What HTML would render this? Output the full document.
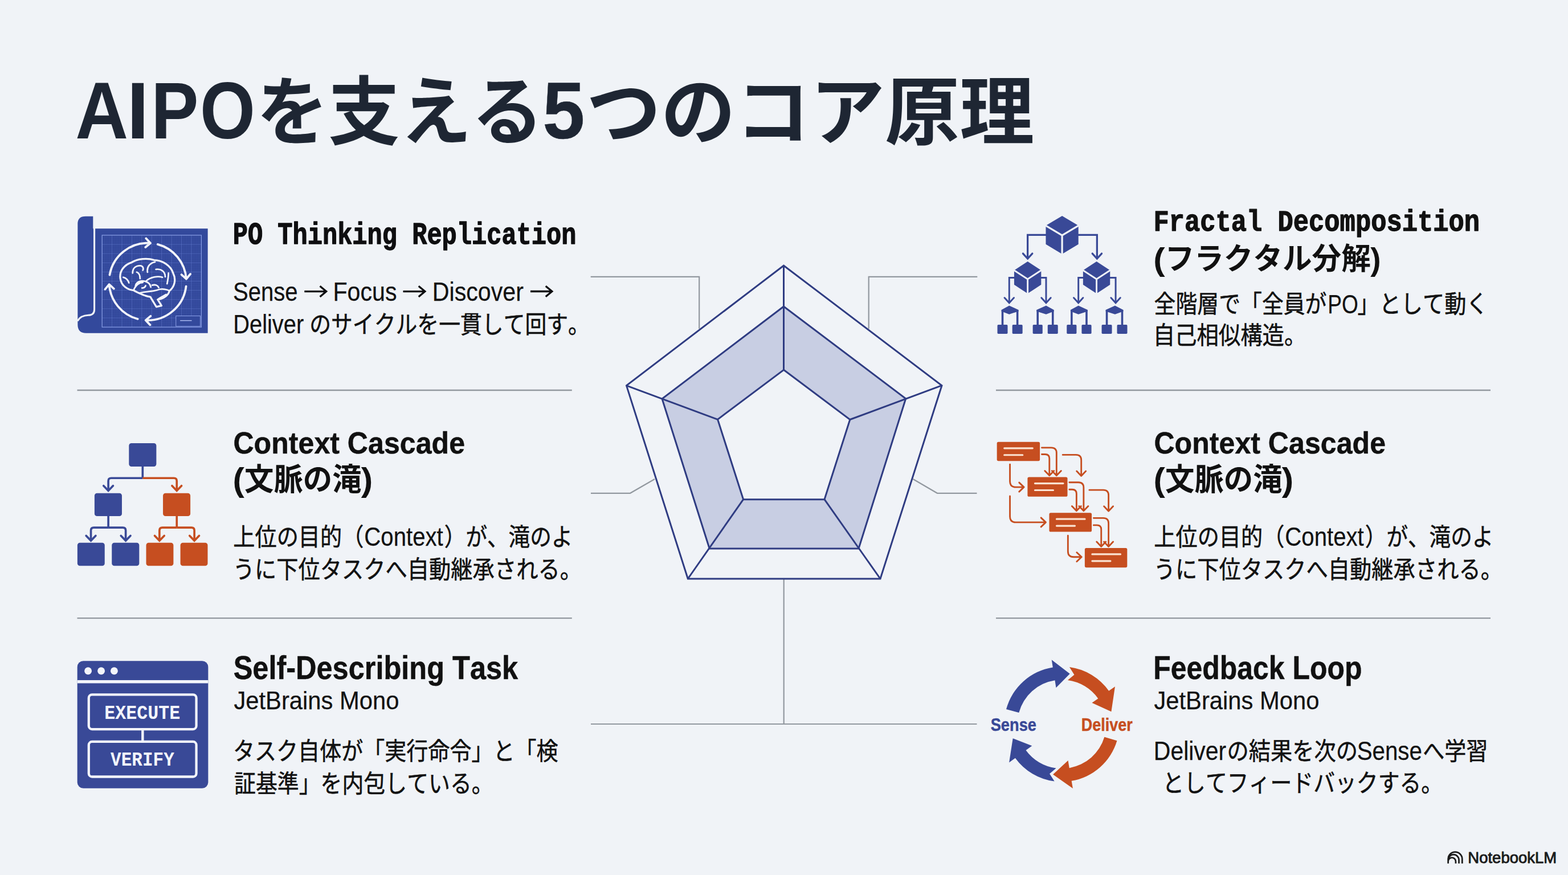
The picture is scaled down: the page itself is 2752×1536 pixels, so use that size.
<!DOCTYPE html>
<html lang="ja"><head><meta charset="utf-8"><title>AIPO core principles</title>
<style>
html,body{margin:0;padding:0;background:#f0f3f7;}
body{width:2752px;height:1536px;overflow:hidden;font-family:"Liberation Sans",sans-serif;}
svg{display:block;}
text{font-kerning:none;white-space:pre;}
</style></head><body>
<svg width="2752" height="1536" viewBox="0 0 2752 1536">
<line x1="135.5" y1="685" x2="1003.8" y2="685" stroke="#92989f" stroke-width="2.3"/>
<line x1="1748" y1="685" x2="2616" y2="685" stroke="#92989f" stroke-width="2.3"/>
<line x1="135.5" y1="1085.2" x2="1003.8" y2="1085.2" stroke="#92989f" stroke-width="2.3"/>
<line x1="1748" y1="1085.2" x2="2616" y2="1085.2" stroke="#92989f" stroke-width="2.3"/>
<path d="M1036.7 485.8 H1227.2 V577" fill="none" stroke="#92989f" stroke-width="2.2"/>
<path d="M1715.3 485.8 H1524.7 V577" fill="none" stroke="#92989f" stroke-width="2.2"/>
<path d="M1037 865.8 H1106 L1149 841" fill="none" stroke="#92989f" stroke-width="2.2"/>
<path d="M1714.5 865.8 H1645 L1602.5 841" fill="none" stroke="#92989f" stroke-width="2.2"/>
<path d="M1037 1271 H1714.5 M1375.7 1017 V1271" fill="none" stroke="#92989f" stroke-width="2.2"/>
<path d="M1375.5 538 L1589.7 699.8 L1507 963 L1245.2 963 L1162 700Z M1375.5 649.3 L1491.8 736.5 L1447 876.7 L1304.6 876.7 L1259.6 736.3Z" fill="#c8cee3" stroke="none" stroke-width="0" fill-rule="evenodd"/>
<path d="M1375.5 466.2 L1653 676.7 L1545 1016 L1207.3 1016 L1099.5 676.9Z" fill="none" stroke="#2f3c82" stroke-width="3" stroke-linejoin="miter"/>
<path d="M1375.5 538 L1589.7 699.8 L1507 963 L1245.2 963 L1162 700Z" fill="none" stroke="#2f3c82" stroke-width="3" stroke-linejoin="miter"/>
<path d="M1375.5 649.3 L1491.8 736.5 L1447 876.7 L1304.6 876.7 L1259.6 736.3Z" fill="none" stroke="#2f3c82" stroke-width="3" stroke-linejoin="miter"/>
<line x1="1375.5" y1="466.2" x2="1375.5" y2="649.3" stroke="#2f3c82" stroke-width="3"/>
<line x1="1653" y1="676.7" x2="1491.8" y2="736.5" stroke="#2f3c82" stroke-width="3"/>
<line x1="1545" y1="1016" x2="1447" y2="876.7" stroke="#2f3c82" stroke-width="3"/>
<line x1="1207.3" y1="1016" x2="1304.6" y2="876.7" stroke="#2f3c82" stroke-width="3"/>
<line x1="1099.5" y1="676.9" x2="1259.6" y2="736.3" stroke="#2f3c82" stroke-width="3"/>
<g transform="translate(120 365) scale(0.16343)"><path d="M185 90 H265 V222 H1497 V1345 H190 Q100 1345 100 1255 V180 Q95 90 185 90Z" fill="#33499c"/><path d="M279 80 V1090 Q279 1150 215 1152 Q130 1155 98 1215" fill="none" stroke="#f0f3f7" stroke-width="19"/><path d="M468.6 293 V1280 M575.2 293 V1280 M681.8 293 V1280 M788.4 293 V1280 M895.0 293 V1280 M1001.6 293 V1280 M1108.2 293 V1280 M1214.8 293 V1280 M1321.4 293 V1280 M362 391.7 H1428 M362 490.4 H1428 M362 589.1 H1428 M362 687.8 H1428 M362 786.5 H1428 M362 885.2 H1428 M362 983.9 H1428 M362 1082.6 H1428 M362 1181.3 H1428" stroke="#7f96e6" stroke-width="4" opacity="0.45" fill="none"/><path d="M362.0 293 V1280 M388.6 293 V1280 M415.3 293 V1280 M441.9 293 V1280 M468.6 293 V1280 M495.2 293 V1280 M521.9 293 V1280 M548.5 293 V1280 M575.2 293 V1280 M601.9 293 V1280 M628.5 293 V1280 M655.1 293 V1280 M681.8 293 V1280 M708.5 293 V1280 M735.1 293 V1280 M761.8 293 V1280 M788.4 293 V1280 M815.0 293 V1280 M841.7 293 V1280 M868.3 293 V1280 M895.0 293 V1280 M921.6 293 V1280 M948.3 293 V1280 M974.9 293 V1280 M1001.6 293 V1280 M1028.2 293 V1280 M1054.9 293 V1280 M1081.5 293 V1280 M1108.2 293 V1280 M1134.8 293 V1280 M1161.5 293 V1280 M1188.2 293 V1280 M1214.8 293 V1280 M1241.4 293 V1280 M1268.1 293 V1280 M1294.8 293 V1280 M1321.4 293 V1280 M1348.0 293 V1280 M1374.7 293 V1280 M1401.3 293 V1280 M362 293.0 H1428 M362 317.7 H1428 M362 342.4 H1428 M362 367.0 H1428 M362 391.7 H1428 M362 416.4 H1428 M362 441.1 H1428 M362 465.7 H1428 M362 490.4 H1428 M362 515.1 H1428 M362 539.8 H1428 M362 564.4 H1428 M362 589.1 H1428 M362 613.8 H1428 M362 638.5 H1428 M362 663.1 H1428 M362 687.8 H1428 M362 712.5 H1428 M362 737.2 H1428 M362 761.8 H1428 M362 786.5 H1428 M362 811.2 H1428 M362 835.9 H1428 M362 860.5 H1428 M362 885.2 H1428 M362 909.9 H1428 M362 934.6 H1428 M362 959.2 H1428 M362 983.9 H1428 M362 1008.6 H1428 M362 1033.2 H1428 M362 1057.9 H1428 M362 1082.6 H1428 M362 1107.3 H1428 M362 1132.0 H1428 M362 1156.6 H1428 M362 1181.3 H1428 M362 1206.0 H1428 M362 1230.7 H1428 M362 1255.3 H1428" stroke="#7f96e6" stroke-width="2" opacity="0.18" fill="none"/><rect x="362" y="293" width="1066" height="987" fill="none" stroke="#8ea3ea" stroke-width="7"/><rect x="1155" y="1160" width="262" height="112" fill="#33499c" stroke="#8ea3ea" stroke-width="6"/><path d="M1200 1210 H1325" stroke="#a9b8ee" stroke-width="9"/><path d="M443.3 719.9 A415 415 0 0 1 880.9 378.0 M834.4 327.1 L880.9 378.0 L827.8 421.9 M959.4 391.1 A415 415 0 0 1 1266.0 763.1 M1309.9 709.9 L1266.0 763.1 L1215.1 716.5 M1263.9 842.6 A415 415 0 0 1 830.3 1206.4 M877.7 1256.5 L830.3 1206.4 L882.7 1161.6 M744.6 1192.9 A415 415 0 0 1 438.0 820.9 M394.1 874.1 L438.0 820.9 L488.9 867.5" fill="none" stroke="#f3f5fb" stroke-width="23" stroke-linecap="round" stroke-linejoin="round"/><path d="M700 885 C640 880 570 840 558 760 C545 680 600 610 680 585 C740 545 850 535 920 560 C1010 560 1100 620 1125 700 C1160 770 1140 850 1085 890 C1075 940 1020 975 960 985 L1000 1050 L945 1062 L880 955 C830 950 790 930 760 915 C740 905 715 895 700 885Z" fill="none" stroke="#f3f5fb" stroke-width="20" stroke-linejoin="round" stroke-linecap="round"/><path d="M720 850 C720 800 770 770 830 790 C880 740 960 730 1010 745 M830 790 C860 800 880 820 885 850 M700 885 C720 830 760 800 800 800 M760 915 C800 900 900 900 960 880 C1010 860 1070 880 1085 890 M690 700 C690 650 720 620 770 620 C800 620 810 650 800 670 M735 690 C760 700 770 730 770 760 M850 690 C840 630 880 590 930 580 M940 660 C990 650 1040 680 1040 740 M590 745 C620 750 645 780 650 805 M1075 700 C1075 740 1065 790 1060 815 M900 830 C930 820 960 830 970 855 M790 860 C810 860 825 850 830 835 M960 985 C980 960 1020 950 1050 930" fill="none" stroke="#f3f5fb" stroke-width="17" stroke-linejoin="round" stroke-linecap="round"/></g>
<g transform="translate(120 765) scale(0.16689)"><rect x="637" y="78" width="288" height="245" rx="26" fill="#394997"/><rect x="275" y="603" width="288" height="242" rx="26" fill="#394997"/><rect x="995" y="603" width="288" height="242" rx="26" fill="#c64e20"/><rect x="95" y="1125" width="287" height="243" rx="26" fill="#394997"/><rect x="457" y="1125" width="288" height="243" rx="26" fill="#394997"/><rect x="818" y="1125" width="287" height="243" rx="26" fill="#c64e20"/><rect x="1178" y="1125" width="287" height="243" rx="26" fill="#c64e20"/><path d="M781 320 V445" stroke="#394997" stroke-width="22" fill="none"/><path d="M781 445 H450 Q420 445 420 475 V570" stroke="#394997" stroke-width="22" fill="none"/><path d="M781 445 H1110 Q1140 445 1140 475 V570" stroke="#c64e20" stroke-width="22" fill="none"/><path d="M370 526 L420 578 L470 526" fill="none" stroke="#394997" stroke-width="22" stroke-linecap="round" stroke-linejoin="miter"/><path d="M1090 526 L1140 578 L1190 526" fill="none" stroke="#c64e20" stroke-width="22" stroke-linecap="round" stroke-linejoin="miter"/><path d="M420 840 V965" stroke="#394997" stroke-width="22" fill="none"/><path d="M420 965 H267 Q237 965 237 995 V1095" stroke="#394997" stroke-width="22" fill="none"/><path d="M420 965 H573 Q603 965 603 995 V1095" stroke="#394997" stroke-width="22" fill="none"/><path d="M187 1051 L237 1103 L287 1051" fill="none" stroke="#394997" stroke-width="22" stroke-linecap="round" stroke-linejoin="miter"/><path d="M553 1051 L603 1103 L653 1051" fill="none" stroke="#394997" stroke-width="22" stroke-linecap="round" stroke-linejoin="miter"/><path d="M1140 840 V965" stroke="#c64e20" stroke-width="22" fill="none"/><path d="M1140 965 H988 Q958 965 958 995 V1095" stroke="#c64e20" stroke-width="22" fill="none"/><path d="M1140 965 H1295 Q1325 965 1325 995 V1095" stroke="#c64e20" stroke-width="22" fill="none"/><path d="M908 1051 L958 1103 L1008 1051" fill="none" stroke="#c64e20" stroke-width="22" stroke-linecap="round" stroke-linejoin="miter"/><path d="M1275 1051 L1325 1103 L1375 1051" fill="none" stroke="#c64e20" stroke-width="22" stroke-linecap="round" stroke-linejoin="miter"/></g>
<g transform="translate(120 1150) scale(0.17039)"><rect x="92" y="60" width="1348" height="1312" rx="62" fill="#394997"/><rect x="92" y="258" width="1348" height="32" fill="#f3f5fb"/><circle cx="203" cy="163" r="38" fill="#f3f5fb"/><circle cx="338" cy="163" r="38" fill="#f3f5fb"/><circle cx="472" cy="163" r="38" fill="#f3f5fb"/><rect x="210" y="407" width="1108" height="356" rx="34" fill="none" stroke="#f3f5fb" stroke-width="25"/><rect x="210" y="892" width="1108" height="361" rx="34" fill="none" stroke="#f3f5fb" stroke-width="25"/><path d="M765 775 V880" stroke="#f3f5fb" stroke-width="26"/></g>
<text x="183.18" y="1261.6" font-family="'Liberation Mono', monospace" font-weight="700" font-size="34.92" textLength="133.21" lengthAdjust="spacingAndGlyphs" fill="#f3f5fb">EXECUTE</text>
<text x="194.05" y="1344.2" font-family="'Liberation Mono', monospace" font-weight="700" font-size="34.92" textLength="111.71" lengthAdjust="spacingAndGlyphs" fill="#f3f5fb">VERIFY</text>
<g transform="translate(1735 365) scale(0.16343)"><path d="M790 85 L965 190 V390 L790 495 L615 390 V190Z" fill="#394997"/><path d="M610 187 L790 295 L970 187 M790 295 V500" fill="none" stroke="#f0f3f7" stroke-width="20"/><path d="M420 575 L565 670 V825 L420 920 L275 825 V670Z" fill="#394997"/><path d="M270 667 L420 765 L570 667 M420 765 V925" fill="none" stroke="#f0f3f7" stroke-width="18"/><path d="M1160 575 L1305 670 V825 L1160 920 L1015 825 V670Z" fill="#394997"/><path d="M1010 667 L1160 765 L1310 667 M1160 765 V925" fill="none" stroke="#f0f3f7" stroke-width="18"/><path d="M620 290 H420 V537" fill="none" stroke="#394997" stroke-width="20" stroke-linejoin="miter"/><path d="M370 490 L420 545 L470 490" fill="none" stroke="#394997" stroke-width="20" stroke-linecap="round"/><path d="M960 290 H1165 V537" fill="none" stroke="#394997" stroke-width="20" stroke-linejoin="miter"/><path d="M1115 490 L1165 545 L1215 490" fill="none" stroke="#394997" stroke-width="20" stroke-linecap="round"/><path d="M280 750 H222 V1012" fill="none" stroke="#394997" stroke-width="18" stroke-linejoin="miter"/><path d="M172 965 L222 1020 L272 965" fill="none" stroke="#394997" stroke-width="18" stroke-linecap="round"/><path d="M560 750 H618 V1012" fill="none" stroke="#394997" stroke-width="18" stroke-linejoin="miter"/><path d="M568 965 L618 1020 L668 965" fill="none" stroke="#394997" stroke-width="18" stroke-linecap="round"/><path d="M1020 750 H965 V1012" fill="none" stroke="#394997" stroke-width="18" stroke-linejoin="miter"/><path d="M915 965 L965 1020 L1015 965" fill="none" stroke="#394997" stroke-width="18" stroke-linecap="round"/><path d="M1300 750 H1365 V1012" fill="none" stroke="#394997" stroke-width="18" stroke-linejoin="miter"/><path d="M1315 965 L1365 1020 L1415 965" fill="none" stroke="#394997" stroke-width="18" stroke-linecap="round"/><path d="M222 1050 L322.0 1095 V1110 L222 1142 L138.0 1110 V1095Z" fill="#394997"/><path d="M150.0 1100 V1260 M310.0 1100 V1260" stroke="#394997" stroke-width="22" fill="none"/><rect x="95" y="1255" width="110" height="97" rx="10" fill="#394997"/><rect x="255" y="1255" width="110" height="97" rx="10" fill="#394997"/><path d="M618 1050 L702.0 1095 V1110 L618 1142 L515.5 1110 V1095Z" fill="#394997"/><path d="M527.5 1100 V1260 M690.0 1100 V1260" stroke="#394997" stroke-width="22" fill="none"/><rect x="475" y="1255" width="105" height="97" rx="10" fill="#394997"/><rect x="635" y="1255" width="110" height="97" rx="10" fill="#394997"/><path d="M965 1050 L1064.5 1095 V1110 L965 1142 L880.5 1110 V1095Z" fill="#394997"/><path d="M892.5 1100 V1260 M1052.5 1100 V1260" stroke="#394997" stroke-width="22" fill="none"/><rect x="840" y="1255" width="105" height="97" rx="10" fill="#394997"/><rect x="1000" y="1255" width="105" height="97" rx="10" fill="#394997"/><path d="M1358 1050 L1447.0 1095 V1110 L1358 1142 L1258.0 1110 V1095Z" fill="#394997"/><path d="M1270.0 1100 V1260 M1435.0 1100 V1260" stroke="#394997" stroke-width="22" fill="none"/><rect x="1215" y="1255" width="110" height="97" rx="10" fill="#394997"/><rect x="1380" y="1255" width="110" height="97" rx="10" fill="#394997"/></g>
<g transform="translate(1735 765) scale(0.16689)"><rect x="88" y="65" width="452" height="200" rx="16" fill="#c64e20"/><path d="M166 131 H463 M166 202 H358" stroke="#fbe3d2" stroke-width="19" stroke-linecap="round" fill="none"/><rect x="410" y="435" width="420" height="205" rx="16" fill="#c64e20"/><path d="M488 501 H785 M488 572 H680" stroke="#fbe3d2" stroke-width="19" stroke-linecap="round" fill="none"/><rect x="638" y="810" width="447" height="200" rx="16" fill="#c64e20"/><path d="M716 876 H1013 M716 947 H908" stroke="#fbe3d2" stroke-width="19" stroke-linecap="round" fill="none"/><rect x="1012" y="1180" width="446" height="205" rx="16" fill="#c64e20"/><path d="M1090 1246 H1387 M1090 1317 H1282" stroke="#fbe3d2" stroke-width="19" stroke-linecap="round" fill="none"/><path d="M560 125 H660 Q715 125 715 180 V418 M667 368 L715 418 L763 368 M560 195 H595 Q640 195 640 240 V418 M592 368 L640 418 L688 368 M780 200 H920 Q975 200 975 255 V422 M927 372 L975 422 L1023 372 M225 300 V480 Q225 540 285 540 H372 M322 492 L372 540 L322 588 M225 635 V850 Q225 910 285 910 H602 M552 862 L602 910 L552 958 M850 490 H945 Q1000 490 1000 545 V790 M952 740 L1000 790 L1048 740 M850 565 H880 Q925 565 925 610 V790 M877 740 L925 790 L973 740 M1060 570 H1207 Q1262 570 1262 625 V792 M1214 742 L1262 792 L1310 742 M1105 865 H1207 Q1262 865 1262 920 V1165 M1214 1115 L1262 1165 L1310 1115 M1105 940 H1140 Q1185 940 1185 985 V1165 M1137 1115 L1185 1165 L1233 1115 M835 1050 V1215 Q835 1275 895 1275 H978 M928 1227 L978 1275 L928 1323" fill="none" stroke="#c64e20" stroke-width="17" stroke-linecap="round" stroke-linejoin="round"/></g>
<g transform="translate(1725 1145) scale(0.17730)"><path d="M231.4 564.5 A570 570 0 0 1 692.8 149.0 L681.1 74.9 L861.0 213.2 L724.9 351.5 L713.2 277.4 A440 440 0 0 0 357.0 598.1Z" fill="#394997"/><path d="M857.4 147.0 A570 570 0 0 1 1247.2 382.6 L1308.4 339.3 L1271.4 587.3 L1079.9 501.1 L1141.1 457.7 A440 440 0 0 0 840.2 275.9 L905.0 222.2Z" fill="#c64e20"/><path d="M1328.0 875.8 A570 570 0 0 1 878.0 1273.9 L890.7 1347.8 L694.3 1209.3 L843.5 1071.8 L856.1 1145.7 A440 440 0 0 0 1203.4 838.4Z" fill="#c64e20"/><path d="M708.6 1277.3 A570 570 0 0 1 320.9 1047.0 L260.2 1091.1 L297.1 852.9 L486.7 926.5 L426.0 970.6 A440 440 0 0 0 725.3 1148.3 L660.7 1202.2Z" fill="#394997"/></g>
<text x="1738.72" y="1283.3" font-family="'Liberation Sans', sans-serif" font-weight="700" font-size="32.27" textLength="80.21" lengthAdjust="spacingAndGlyphs" fill="#394997" stroke="#394997" stroke-width="0.5" stroke-linejoin="round">Sense</text>
<text x="1897.79" y="1283.3" font-family="'Liberation Sans', sans-serif" font-weight="700" font-size="32.27" textLength="90.01" lengthAdjust="spacingAndGlyphs" fill="#c64e20" stroke="#c64e20" stroke-width="0.5" stroke-linejoin="round">Deliver</text>
<g transform="translate(2520 1470) scale(0.09009)"><path d="M240 507 V422 A137 137 0 0 1 514 422 V507 M240 507 V440 A105 105 0 0 1 450 440 V507 M240 507 V468 A74 74 0 0 1 388 468 V507" fill="none" stroke="#1b1b1b" stroke-width="30"/></g>
<text y="242.9" font-family="'Liberation Sans', sans-serif" font-weight="700" font-size="140.84" fill="#1e2633"><tspan x="132.2" textLength="92.89" lengthAdjust="spacingAndGlyphs">A</tspan><tspan x="222.42" textLength="38.96" lengthAdjust="spacingAndGlyphs">I</tspan><tspan x="265.35" textLength="83.21" lengthAdjust="spacingAndGlyphs">P</tspan><tspan x="351.09" textLength="96.95" lengthAdjust="spacingAndGlyphs">O</tspan></text>
<text x="450.26" y="243" font-family="'Liberation Sans', 'Noto Sans CJK JP', sans-serif" font-weight="700" font-size="130.6" textLength="503.48" lengthAdjust="spacingAndGlyphs" fill="#1e2633">を支える</text>
<text x="952.29" y="243" font-family="'Liberation Sans', sans-serif" font-weight="700" font-size="140.12" textLength="74.22" lengthAdjust="spacingAndGlyphs" fill="#1e2633" stroke="#1e2633" stroke-width="0.5" stroke-linejoin="round">5</text>
<text x="1029.02" y="243" font-family="'Liberation Sans', 'Noto Sans CJK JP', sans-serif" font-weight="700" font-size="130.6" textLength="786.18" lengthAdjust="spacingAndGlyphs" fill="#1e2633">つのコア原理</text>
<text x="408.7" y="428.3" font-family="'Liberation Mono', monospace" font-weight="700" font-size="53.89" textLength="602.77" lengthAdjust="spacingAndGlyphs" fill="#0e0e10" stroke="#0e0e10" stroke-width="1.3" stroke-linejoin="round">PO Thinking Replication</text>
<text x="408.98" y="528.1" font-family="'Liberation Sans', sans-serif" font-weight="400" font-size="46.51" textLength="113.7" lengthAdjust="spacingAndGlyphs" fill="#111" stroke="#111" stroke-width="0.25" stroke-linejoin="round">Sense</text>
<path d="M534.3 511.6 H571.7 M561.54 502.3 L572.7 511.6 L561.54 520.9" fill="none" stroke="#0e0e10" stroke-width="3.3" stroke-linejoin="miter"/>
<text x="584.42" y="528.1" font-family="'Liberation Sans', sans-serif" font-weight="400" font-size="46.51" textLength="112.06" lengthAdjust="spacingAndGlyphs" fill="#111" stroke="#111" stroke-width="0.25" stroke-linejoin="round">Focus</text>
<path d="M707.5 511.6 H744.9 M734.74 502.3 L745.9 511.6 L734.74 520.9" fill="none" stroke="#0e0e10" stroke-width="3.3" stroke-linejoin="miter"/>
<text x="758.82" y="527.9" font-family="'Liberation Sans', sans-serif" font-weight="400" font-size="46.22" textLength="160.06" lengthAdjust="spacingAndGlyphs" fill="#111" stroke="#111" stroke-width="0.25" stroke-linejoin="round">Discover</text>
<path d="M931 511.5 H967.9 M957.74 502.2 L968.9 511.5 L957.74 520.8" fill="none" stroke="#0e0e10" stroke-width="3.3" stroke-linejoin="miter"/>
<text x="409.34" y="585.2" font-family="'Liberation Sans', sans-serif" font-weight="400" font-size="46.66" textLength="123.82" lengthAdjust="spacingAndGlyphs" fill="#111" stroke="#111" stroke-width="0.25" stroke-linejoin="round">Deliver</text>
<text x="543.17" y="584.8" font-family="'Liberation Sans', 'Noto Sans CJK JP', sans-serif" font-weight="400" font-size="43" textLength="491.79" lengthAdjust="spacingAndGlyphs" fill="#111" stroke="#111" stroke-width="0.55" stroke-linejoin="round">のサイクルを一貫して回す。</text>
<text x="409.44" y="796.4" font-family="'Liberation Sans', sans-serif" font-weight="700" font-size="54.51" textLength="406.57" lengthAdjust="spacingAndGlyphs" fill="#111" stroke="#111" stroke-width="0.5" stroke-linejoin="round">Context Cascade</text>
<text x="408.61" y="862.03" font-family="'Liberation Sans', 'Noto Sans CJK JP', sans-serif" font-weight="700" font-size="58.26" textLength="20.35" lengthAdjust="spacingAndGlyphs" fill="#111">(</text>
<text x="428.96" y="861.4" font-family="'Liberation Sans', 'Noto Sans CJK JP', sans-serif" font-weight="700" font-size="54" textLength="205.72" lengthAdjust="spacingAndGlyphs" fill="#111">文脈の滝</text>
<text x="633.67" y="862.03" font-family="'Liberation Sans', 'Noto Sans CJK JP', sans-serif" font-weight="700" font-size="58.26" textLength="20.5" lengthAdjust="spacingAndGlyphs" fill="#111">)</text>
<text x="409.3" y="957.8" font-family="'Liberation Sans', 'Noto Sans CJK JP', sans-serif" font-weight="400" font-size="43" textLength="229.08" lengthAdjust="spacingAndGlyphs" fill="#111" stroke="#111" stroke-width="0.55" stroke-linejoin="round">上位の目的（</text>
<text x="639.36" y="957.6" font-family="'Liberation Sans', sans-serif" font-weight="400" font-size="45.35" textLength="138.43" lengthAdjust="spacingAndGlyphs" fill="#111" stroke="#111" stroke-width="0.25" stroke-linejoin="round">Context</text>
<text x="779.77" y="957.8" font-family="'Liberation Sans', 'Noto Sans CJK JP', sans-serif" font-weight="400" font-size="43" textLength="225.66" lengthAdjust="spacingAndGlyphs" fill="#111" stroke="#111" stroke-width="0.55" stroke-linejoin="round">）が、滝のよ</text>
<text x="408.65" y="1014.8" font-family="'Liberation Sans', 'Noto Sans CJK JP', sans-serif" font-weight="400" font-size="43" textLength="612.32" lengthAdjust="spacingAndGlyphs" fill="#111" stroke="#111" stroke-width="0.55" stroke-linejoin="round">うに下位タスクへ自動継承される。</text>
<text x="2025.44" y="796.4" font-family="'Liberation Sans', sans-serif" font-weight="700" font-size="54.51" textLength="406.57" lengthAdjust="spacingAndGlyphs" fill="#111" stroke="#111" stroke-width="0.5" stroke-linejoin="round">Context Cascade</text>
<text x="2024.61" y="862.03" font-family="'Liberation Sans', 'Noto Sans CJK JP', sans-serif" font-weight="700" font-size="58.26" textLength="20.35" lengthAdjust="spacingAndGlyphs" fill="#111">(</text>
<text x="2044.96" y="861.4" font-family="'Liberation Sans', 'Noto Sans CJK JP', sans-serif" font-weight="700" font-size="54" textLength="205.72" lengthAdjust="spacingAndGlyphs" fill="#111">文脈の滝</text>
<text x="2249.67" y="862.03" font-family="'Liberation Sans', 'Noto Sans CJK JP', sans-serif" font-weight="700" font-size="58.26" textLength="20.5" lengthAdjust="spacingAndGlyphs" fill="#111">)</text>
<text x="2025.3" y="957.8" font-family="'Liberation Sans', 'Noto Sans CJK JP', sans-serif" font-weight="400" font-size="43" textLength="229.08" lengthAdjust="spacingAndGlyphs" fill="#111" stroke="#111" stroke-width="0.55" stroke-linejoin="round">上位の目的（</text>
<text x="2255.36" y="957.6" font-family="'Liberation Sans', sans-serif" font-weight="400" font-size="45.35" textLength="138.43" lengthAdjust="spacingAndGlyphs" fill="#111" stroke="#111" stroke-width="0.25" stroke-linejoin="round">Context</text>
<text x="2395.77" y="957.8" font-family="'Liberation Sans', 'Noto Sans CJK JP', sans-serif" font-weight="400" font-size="43" textLength="225.66" lengthAdjust="spacingAndGlyphs" fill="#111" stroke="#111" stroke-width="0.55" stroke-linejoin="round">）が、滝のよ</text>
<text x="2024.65" y="1014.8" font-family="'Liberation Sans', 'Noto Sans CJK JP', sans-serif" font-weight="400" font-size="43" textLength="612.32" lengthAdjust="spacingAndGlyphs" fill="#111" stroke="#111" stroke-width="0.55" stroke-linejoin="round">うに下位タスクへ自動継承される。</text>
<text x="409.65" y="1191.9" font-family="'Liberation Sans', sans-serif" font-weight="700" font-size="56.83" textLength="499.51" lengthAdjust="spacingAndGlyphs" fill="#111" stroke="#111" stroke-width="0.5" stroke-linejoin="round">Self-Describing Task</text>
<text x="410.45" y="1245" font-family="'Liberation Sans', sans-serif" font-weight="400" font-size="44.04" textLength="290" lengthAdjust="spacingAndGlyphs" fill="#111" stroke="#111" stroke-width="0.25" stroke-linejoin="round">JetBrains Mono</text>
<text x="409" y="1334.3" font-family="'Liberation Sans', 'Noto Sans CJK JP', sans-serif" font-weight="400" font-size="43" textLength="570.6" lengthAdjust="spacingAndGlyphs" fill="#111" stroke="#111" stroke-width="0.55" stroke-linejoin="round">タスク自体が「実行命令」と「検</text>
<text x="411.06" y="1390.5" font-family="'Liberation Sans', 'Noto Sans CJK JP', sans-serif" font-weight="400" font-size="43" textLength="454.68" lengthAdjust="spacingAndGlyphs" fill="#111" stroke="#111" stroke-width="0.55" stroke-linejoin="round">証基準」を内包している。</text>
<text x="2024.5" y="405.4" font-family="'Liberation Mono', monospace" font-weight="700" font-size="52.22" textLength="572.48" lengthAdjust="spacingAndGlyphs" fill="#111" stroke="#111" stroke-width="1.3" stroke-linejoin="round">Fractal Decomposition</text>
<text x="2024.24" y="473.55" font-family="'Liberation Sans', 'Noto Sans CJK JP', sans-serif" font-weight="700" font-size="54.69" textLength="20.45" lengthAdjust="spacingAndGlyphs" fill="#111">(</text>
<text x="2044.69" y="473.2" font-family="'Liberation Sans', 'Noto Sans CJK JP', sans-serif" font-weight="700" font-size="53" textLength="361.06" lengthAdjust="spacingAndGlyphs" fill="#111">フラクタル分解</text>
<text x="2405.28" y="473.55" font-family="'Liberation Sans', 'Noto Sans CJK JP', sans-serif" font-weight="700" font-size="54.69" textLength="18.3" lengthAdjust="spacingAndGlyphs" fill="#111">)</text>
<text x="2025.6" y="549" font-family="'Liberation Sans', 'Noto Sans CJK JP', sans-serif" font-weight="400" font-size="43" textLength="302.88" lengthAdjust="spacingAndGlyphs" fill="#111" stroke="#111" stroke-width="0.55" stroke-linejoin="round">全階層で「全員が</text>
<text x="2330.26" y="550" font-family="'Liberation Sans', sans-serif" font-weight="400" font-size="45.93" textLength="53.51" lengthAdjust="spacingAndGlyphs" fill="#111" stroke="#111" stroke-width="0.25" stroke-linejoin="round">PO</text>
<text x="2382.45" y="549" font-family="'Liberation Sans', 'Noto Sans CJK JP', sans-serif" font-weight="400" font-size="43" textLength="229.26" lengthAdjust="spacingAndGlyphs" fill="#111" stroke="#111" stroke-width="0.55" stroke-linejoin="round">」として動く</text>
<text x="2023.75" y="604.4" font-family="'Liberation Sans', 'Noto Sans CJK JP', sans-serif" font-weight="400" font-size="43" textLength="268.59" lengthAdjust="spacingAndGlyphs" fill="#111" stroke="#111" stroke-width="0.55" stroke-linejoin="round">自己相似構造。</text>
<text x="2024.36" y="1191.9" font-family="'Liberation Sans', sans-serif" font-weight="700" font-size="56.54" textLength="366.09" lengthAdjust="spacingAndGlyphs" fill="#111" stroke="#111" stroke-width="0.5" stroke-linejoin="round">Feedback Loop</text>
<text x="2025.45" y="1245" font-family="'Liberation Sans', sans-serif" font-weight="400" font-size="44.04" textLength="290" lengthAdjust="spacingAndGlyphs" fill="#111" stroke="#111" stroke-width="0.25" stroke-linejoin="round">JetBrains Mono</text>
<text x="2024.84" y="1333.5" font-family="'Liberation Sans', sans-serif" font-weight="400" font-size="45.35" textLength="127.44" lengthAdjust="spacingAndGlyphs" fill="#111" stroke="#111" stroke-width="0.25" stroke-linejoin="round">Deliver</text>
<text x="2153.43" y="1334" font-family="'Liberation Sans', 'Noto Sans CJK JP', sans-serif" font-weight="400" font-size="43" textLength="229.5" lengthAdjust="spacingAndGlyphs" fill="#111" stroke="#111" stroke-width="0.55" stroke-linejoin="round">の結果を次の</text>
<text x="2381.67" y="1333.5" font-family="'Liberation Sans', sans-serif" font-weight="400" font-size="45.35" textLength="114.22" lengthAdjust="spacingAndGlyphs" fill="#111" stroke="#111" stroke-width="0.25" stroke-linejoin="round">Sense</text>
<text x="2497.17" y="1334" font-family="'Liberation Sans', 'Noto Sans CJK JP', sans-serif" font-weight="400" font-size="43" textLength="114.12" lengthAdjust="spacingAndGlyphs" fill="#111" stroke="#111" stroke-width="0.55" stroke-linejoin="round">へ学習</text>
<text x="2040.29" y="1390.2" font-family="'Liberation Sans', 'Noto Sans CJK JP', sans-serif" font-weight="400" font-size="43" textLength="491.92" lengthAdjust="spacingAndGlyphs" fill="#111" stroke="#111" stroke-width="0.55" stroke-linejoin="round">としてフィードバックする。</text>
<text x="2576.35" y="1515" font-family="'Liberation Sans', sans-serif" font-weight="400" font-size="26.74" textLength="155.81" lengthAdjust="spacingAndGlyphs" fill="#1b1b1b" stroke="#1b1b1b" stroke-width="0.9" stroke-linejoin="round">NotebookLM</text>
</svg>
</body></html>
